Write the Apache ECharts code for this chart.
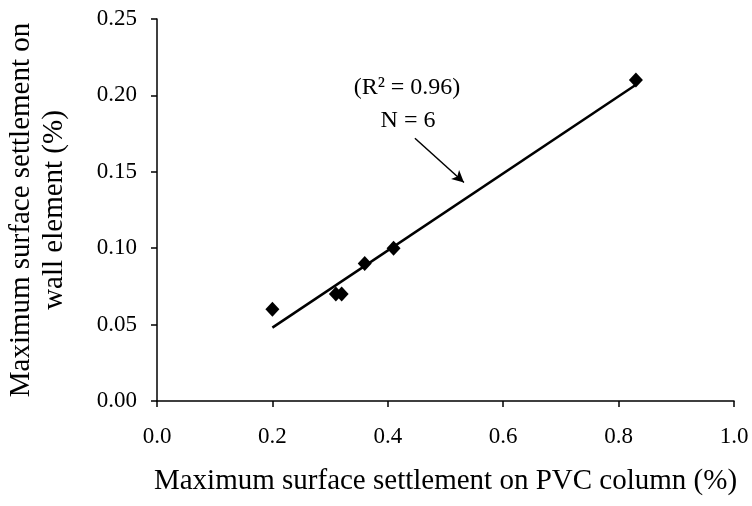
<!DOCTYPE html>
<html>
<head>
<meta charset="utf-8">
<script src="https://cdn.jsdelivr.net/npm/echarts@6/dist/echarts.min.js"></script>
<style>
  html, body { margin: 0; padding: 0; background: #fff; }
  #chart { width: 752px; height: 506px; }
</style>
</head>
<body>
<div id="chart"></div>
<script>
// Measured settlements (%)
const pvcSettlement = [0.20, 0.31, 0.32, 0.36, 0.41, 0.83];
const wallSettlement = [0.06, 0.07, 0.07, 0.09, 0.10, 0.21];

// Linear trend line end points
const trendX = [0.20, 0.83];
const trendY = [0.048, 0.207];

// Annotation arrow (data coordinates)
const arrowFrom = [0.447, 0.172];
const arrowTo = [0.532, 0.143];

const xTicks = { min: 0, max: 1.0, interval: 0.2 };
const yTicks = { min: 0, max: 0.25, interval: 0.05 };

const FONT = 'Liberation Serif';

const chart = echarts.init(document.getElementById('chart'));
chart.setOption({
  animation: false,
  backgroundColor: '#fff',
  grid: { left: 157, right: 18, top: 19, bottom: 105, containLabel: false, outerBoundsMode: 'none' },
  xAxis: {
    type: 'value',
    min: xTicks.min, max: xTicks.max, interval: xTicks.interval,
    name: 'Maximum surface settlement on PVC column (%)',
    nameLocation: 'middle',
    nameGap: 66,
    nameTextStyle: { fontFamily: FONT, fontSize: 29, color: '#000' },
    axisLine: { show: true, lineStyle: { color: '#000', width: 1.5 } },
    axisTick: { show: true, inside: false, length: 6, lineStyle: { color: '#000', width: 1.5 } },
    axisLabel: { fontFamily: FONT, fontSize: 23, color: '#000', margin: 24,
      formatter: v => v.toFixed(1) },
    splitLine: { show: false }
  },
  yAxis: {
    type: 'value',
    min: yTicks.min, max: yTicks.max, interval: yTicks.interval,
    name: 'Maximum surface settlement on\nwall element (%)',
    nameLocation: 'middle',
    nameGap: 86,
    nameRotate: 90,
    nameTextStyle: { fontFamily: FONT, fontSize: 29, color: '#000', lineHeight: 33 },
    axisLine: { show: true, lineStyle: { color: '#000', width: 1.5 } },
    axisTick: { show: true, inside: false, length: 6, lineStyle: { color: '#000', width: 1.5 } },
    axisLabel: { fontFamily: FONT, fontSize: 23, color: '#000', margin: 20,
      formatter: v => v.toFixed(2) },
    splitLine: { show: false }
  },
  series: [
    {
      name: 'Trend',
      type: 'line',
      data: trendX.map((x, i) => [x, trendY[i]]),
      symbol: 'none',
      lineStyle: { color: '#000', width: 2.5 },
      z: 2,
      markLine: {
        silent: true,
        symbol: ['none', 'arrow'],
        symbolSize: [9, 12],
        label: { show: false },
        lineStyle: { color: '#000', width: 1.5, type: 'solid' },
        data: [[{ coord: arrowFrom }, { coord: arrowTo }]]
      }
    },
    {
      name: 'Settlement',
      type: 'scatter',
      data: pvcSettlement.map((x, i) => [x, wallSettlement[i]]),
      symbol: 'diamond',
      symbolSize: [14, 15],
      itemStyle: { color: '#000', opacity: 1 },
      z: 3
    }
  ],
  graphic: [
    {
      type: 'text',
      x: 407, y: 88,
      style: { text: '(R² = 0.96)', fontFamily: FONT, fontSize: 24, fill: '#000',
        align: 'center', verticalAlign: 'middle' }
    },
    {
      type: 'text',
      x: 408, y: 121,
      style: { text: 'N = 6', fontFamily: FONT, fontSize: 24, fill: '#000',
        align: 'center', verticalAlign: 'middle' }
    }
  ]
});
</script>
</body>
</html>
